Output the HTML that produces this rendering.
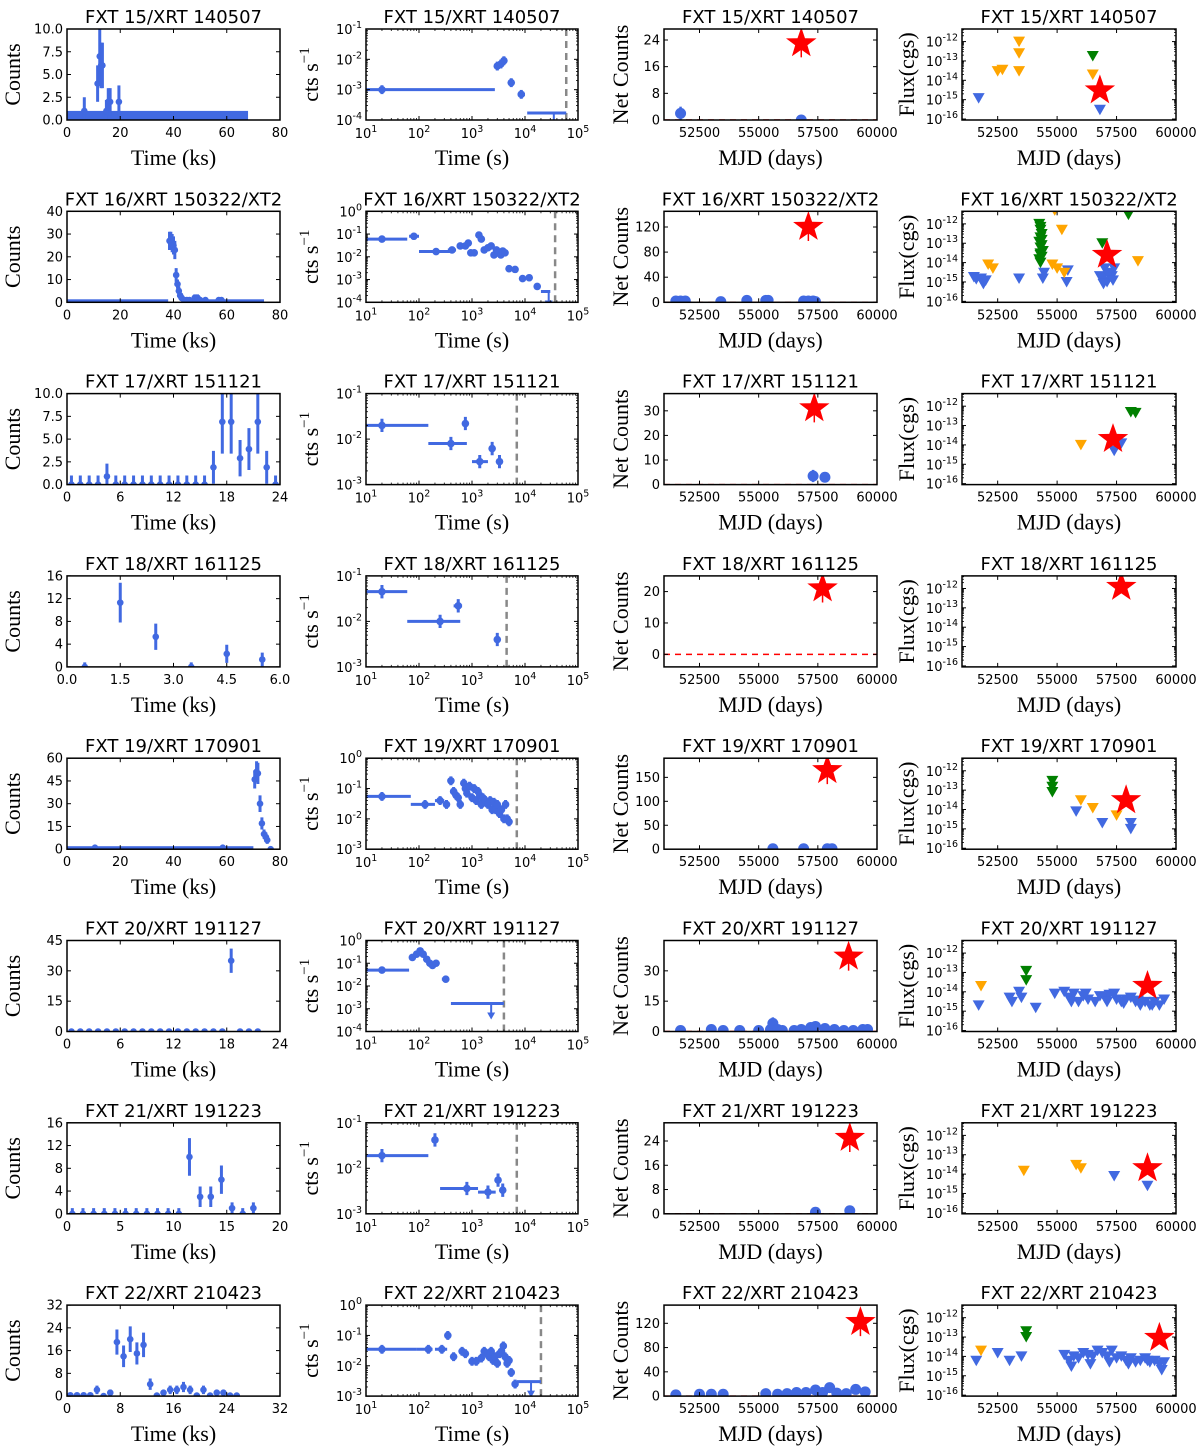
<!DOCTYPE html>
<html><head><meta charset="utf-8"><title>FXT light curves</title>
<style>
html,body{margin:0;padding:0;background:#fff;}
svg{display:block;}
.ttl{font-family:"DejaVu Sans","Liberation Sans",sans-serif;font-size:18px;fill:#000;}
.tk{font-family:"DejaVu Sans","Liberation Sans",sans-serif;font-size:13px;fill:#000;}
.lab{font-family:"Liberation Serif","DejaVu Serif",serif;font-size:22px;fill:#000;}
</style></head>
<body>
<svg id="fig" width="1200" height="1455" viewBox="0 0 1200 1455" xmlns="http://www.w3.org/2000/svg"></svg>
<script>
// ---------- panel titles ----------
const titles = ["FXT 15/XRT 140507","FXT 16/XRT 150322/XT2","FXT 17/XRT 151121","FXT 18/XRT 161125","FXT 19/XRT 170901","FXT 20/XRT 191127","FXT 21/XRT 191223","FXT 22/XRT 210423"];

// ---------- column 1: counts vs time (ks) ----------
const c1Xmax = [80,80,24,6,80,24,20,32];
const c1Ymax = [10,40,10,16,60,45,16,32];
const c1Xticks = [[0,20,40,60,80],[0,20,40,60,80],[0,6,12,18,24],[0,1.5,3,4.5,6],[0,20,40,60,80],[0,6,12,18,24],[0,5,10,15,20],[0,8,16,24,32]];
const c1Xlabels = [["0","20","40","60","80"],["0","20","40","60","80"],["0","6","12","18","24"],["0.0","1.5","3.0","4.5","6.0"],["0","20","40","60","80"],["0","6","12","18","24"],["0","5","10","15","20"],["0","8","16","24","32"]];
const c1Yticks = [[0,2.5,5,7.5,10],[0,10,20,30,40],[0,2.5,5,7.5,10],[0,4,8,12,16],[0,15,30,45,60],[0,15,30,45],[0,4,8,12,16],[0,8,16,24,32]];
const c1Ylabels = [["0.0","2.5","5.0","7.5","10.0"],["0","10","20","30","40"],["0.0","2.5","5.0","7.5","10.0"],["0","4","8","12","16"],["0","15","30","45","60"],["0","15","30","45"],["0","4","8","12","16"],["0","8","16","24","32"]];
// bands of zero-count bins: [start, end, upper error]
const c1Bands = [[[0,68,1]],[[0,38,0.8],[44,74,0.8]],[],[],[[0,70,1]],[],[],[]];
const c1T = [
 [6.5,11.5,12.3,12.8,13.3,14.8,15.5,16.2,19.5],
 [38.5,39,39.5,40,40.5,41,41.5,42,42.5,43,44,45,46,48,49,50,52,57,58],
 [0.5,1.5,2.5,3.5,4.5,5.5,6.5,7.5,8.5,9.5,10.5,11.5,12.5,13.5,14.5,15.5,16.5,17.5,18.5,19.5,20.5,21.5,22.5,23.5],
 [0.5,1.5,2.5,3.5,4.5,5.5],
 [10.5,58.5,70.5,71.2,71.7,72.5,73.2,74,74.7,75.2,76.5],
 [0.5,1.5,2.5,3.5,4.5,5.5,6.5,7.5,8.5,9.5,10.5,11.5,12.5,13.5,14.5,15.5,16.5,17.5,18.5,19.5,20.5,21.5],
 [0.5,1.5,2.5,3.5,4.5,5.5,6.5,7.5,8.5,9.5,10.5,11.5,12.5,13.5,14.5,15.5,16.5,17.5],
 [0.5,1.5,2.5,3.5,4.5,5.5,6.5,7.5,8.5,9.5,10.5,11.5,12.5,13.5,14.5,15.5,16.5,17.5,18.5,19.5,20.5,21.5,22.5,23.5,24.5,25.5]
];
const c1C = [
 [1,4,7,6,6,1,2,2,2],
 [27,27,26,25,23,12,8,5,3,2,1,1,1,2,2,1,1,1,1],
 [0,0,0,0,0.9,0,0,0,0,0,0,0,0,0,0,0,1.9,6.9,6.9,2.9,3.9,6.9,1.9,0],
 [0,11.3,5.3,0,2.3,1.3],
 [1,1,46,51,50,30,17,10,8,6,0],
 [0,0,0,0,0,0,0,0,0,0,0,0,0,0,0,0,0,0,35,0,0,0],
 [0,0,0,0,0,0,0,0,0,0,0,10,3,3,6,1,0,1],
 [0.3,0.3,0.3,0.3,2.2,0,1.2,19,14,20,15,18,4.2,0.2,1.2,2.2,2.2,3.2,2.2,0.2,2.2,0.2,1.2,1.2,0.2,0.2]
];
const c1E = [
 [1.5,2,3,2.5,2.5,1.2,1.5,1.5,1.8],
 [4,4,4,4,4,3,2,2,1.5,1.5,1,1,1,1.5,1.5,1,1,1,1],
 [1,1,1,1,1.4,1,1,1,1,1,1,1,1,1,1,1,1.8,3.5,3.5,2,2.3,3.5,1.8,1],
 [0.8,3.5,2.3,0.8,1.6,1.2],
 [1,1,6,7,7,5.5,4,3,3,2.5,1],
 [1,1,1,1,1,1,1,1,1,1,1,1,1,1,1,1,1,1,6,1,1,1],
 [1,1,1,1,1,1,1,1,1,1,1,3.3,1.8,1.8,2.5,1,1,1],
 [0.7,0.7,0.7,0.7,1.5,0.5,1.1,4.4,3.8,4.5,3.9,4.3,2,0.5,1,1.5,1.5,1.8,1.5,0.5,1.5,0.5,1,1,0.5,0.5]
];

// ---------- column 2: count rate vs time (log-log) ----------
const c2Ymin = [-4,-4,-3,-3,-3,-4,-3,-3];
const c2Ymax = [-1,0,-1,-1,0,0,-1,0];
const c2Dash = [60000,37000,7000,4500,7000,4000,7000,20000];
const c2T = [
 [20,3000,3500,4000,5500,8500],
 [20,80,210,420,600,750,850,950,1100,1350,1500,1700,2000,2300,2600,2900,3200,3500,3800,4200,5000,6500,9000,12000,17000],
 [20,400,750,1400,2400,3300],
 [20,250,550,3000],
 [20,130,250,330,400,450,500,550,600,700,750,800,900,1000,1100,1200,1300,1400,1500,1600,1800,2000,2200,2400,2600,2800,3000,3300,3600,4000,4300,4600,5000],
 [20,75,90,105,120,140,160,180,210,320],
 [20,200,800,2000,3100,3800],
 [20,150,270,350,450,650,750,1000,1200,1500,1700,1900,2100,2300,2500,2700,3000,3300,3600,3900,4200,4600,5000,5500,6500]
];
const c2Xlo = [
 [10,2700,3300,3800,4800,7500],
 [10,65,100,350,520,700,800,900,1000,1250,1400,1600,1850,2150,2450,2750,3050,3350,3650,3950,4500,5600,8000,10500,15000],
 [10,150,700,1000,2200,3000],
 [10,60,450,2600],
 [10,70,200,300,380,430,480,530,570,660,720,770,860,950,1050,1150,1250,1350,1450,1550,1700,1900,2100,2300,2500,2700,2900,3150,3450,3800,4150,4450,4800],
 [10,70,85,95,115,130,150,170,190,270],
 [10,180,250,1300,2900,3500],
 [10,90,200,330,400,600,700,900,1100,1400,1600,1800,2000,2200,2400,2600,2850,3150,3450,3750,4050,4400,4800,5200,6000]
];
const c2Xhi = [
 [2700,3300,3800,4300,6300,10000],
 [60,100,400,500,700,850,950,1000,1200,1450,1600,1800,2150,2450,2750,3050,3350,3650,3950,4500,5600,7500,10000,13500,19000],
 [150,800,800,2000,2700,3600],
 [60,600,650,3400],
 [70,200,300,380,420,470,520,570,630,740,780,830,940,1050,1150,1250,1350,1450,1550,1650,1900,2100,2300,2500,2700,2900,3150,3450,3750,4150,4450,4750,5200],
 [65,85,95,115,130,150,170,190,230,370],
 [150,220,1300,2800,3300,4100],
 [90,180,340,370,500,700,800,1100,1300,1600,1800,2000,2200,2400,2600,2800,3150,3450,3750,4050,4400,4800,5200,5800,7000]
];
const c2R = [
 [1e-3,6e-3,7e-3,9e-3,1.7e-3,7e-4],
 [0.06,0.08,0.017,0.02,0.03,0.03,0.04,0.015,0.015,0.09,0.06,0.02,0.025,0.03,0.012,0.02,0.015,0.012,0.018,0.015,3e-3,2.8e-3,1.1e-3,1.2e-3,5e-4],
 [0.02,0.008,0.022,3.2e-3,6.2e-3,3.2e-3],
 [0.045,0.01,0.022,4e-3],
 [0.055,0.03,0.04,0.03,0.18,0.08,0.06,0.05,0.03,0.15,0.1,0.07,0.12,0.05,0.1,0.04,0.08,0.06,0.03,0.05,0.04,0.03,0.04,0.02,0.035,0.02,0.03,0.015,0.02,0.01,0.03,0.01,0.008],
 [0.05,0.18,0.25,0.35,0.25,0.15,0.1,0.08,0.1,0.02],
 [0.019,0.042,3.6e-3,3e-3,5.5e-3,3.3e-3],
 [0.035,0.035,0.035,0.1,0.02,0.03,0.025,0.014,0.014,0.018,0.03,0.025,0.02,0.03,0.015,0.02,0.012,0.025,0.03,0.045,0.02,0.012,0.015,0.006,2.5e-3]
];
const c2F = [1.4,1.4,1.4,1.4,1.4,1.35,1.4,1.4];
// upper limits: [start, end, rate, arrow position]
const c2UL = [[11000,60000,1.7e-4,35000],[20000,30000,3e-4,28000],null,null,null,[400,4000,1.7e-3,2300],null,[7000,20000,3e-3,13000]];

// ---------- column 3: net counts vs MJD ----------
const c3Ymin = [0,0,0,-4,0,0,0,0];
const c3Ymax = [27.3,145,37,25,190,45,30,150];
const c3Yticks = [[0,8,16,24],[0,40,80,120],[0,10,20,30],[0,10,20],[0,50,100,150],[0,15,30],[0,8,16,24],[0,40,80,120]];
const c3Mjd = [
 [51700,56800],
 [51500,51700,51900,53400,54500,55300,55400,56900,57100,57300,57400],
 [57300,57800],
 [],
 [55600,56900,57900,58100],
 [51700,53000,53500,54200,55000,55500,55600,55800,56000,56500,56800,57200,57400,57800,58200,58600,59000,59400,59600],
 [57400,58850],
 [51500,52500,53000,53500,55300,55800,56200,56600,57000,57400,57700,58000,58300,58700,59100,59500]
];
const c3Net = [
 [2,0],
 [2,2,2,1,3,3,3,2,2,2,1],
 [3.5,3],
 [],
 [1,1,1,1],
 [0.5,1,0.5,0.5,0.5,1,4,1,0.5,0.5,1,2,2.5,1.5,1,0.5,0.5,1,1],
 [0.5,1],
 [2,3,3,3,4,3,4,6,6,10,6,14,5,4,11,7]
];
const c3Err = [
 [2,1.5],[2,2,2,1.5,2,2,2,2,2,2,1.5],[2.5,1.5],[],[1,1,1,1],
 [0.8,1,0.8,0.8,0.8,1,3,1,0.8,0.8,1,1.5,1.5,1.2,1,0.8,0.8,1,1],
 [1,1.5],[2,3,3,3,3,3,3,3,3,4,3,4,3,3,4,3]
];
const c3StarMjd = [56800,57100,57350,57700,57900,58800,58850,59300];
const c3StarNet = [23,120,31,21,165,37,25,122];

// ---------- column 4: flux upper limits vs MJD ----------
const c4BlueMjd = [
 [51700,56800],
 [51500,51600,51800,51900,52000,53400,54400,54450,55400,55450,56800,56900,57000,57100,57200,57300,57400,56950,57150,57350],
 [57400,57700],
 [],
 [55800,56900,58100,58100],
 [51700,53000,53100,53400,53500,54100,54900,55300,55500,55700,55900,56100,56300,56600,56800,57000,57200,57400,57500,57700,57900,58100,58300,58500,58700,58900,59100,59300,59500,55600,56200,57100,57800,58400,59000],
 [57400,58800],
 [51600,52500,53000,53500,55300,55500,55700,55900,56100,56300,56500,56700,56900,57100,57300,57500,57700,57900,58100,58300,58500,58700,58900,59100,59300,59500,55600,56400,57200,58000,58800,59400]
];
const c4BlueFlux = [
 [1.2e-15,3e-16],
 [1.8e-15,1.4e-15,1.5e-15,8e-16,1.2e-15,1.5e-15,1.5e-15,3e-15,1e-15,4e-15,2e-15,1.5e-15,5e-15,1e-15,3e-15,2e-15,5e-15,8e-16,2.5e-15,1.2e-15],
 [5e-15,1.2e-14],
 [],
 [8e-15,2e-15,2e-15,1e-15],
 [2e-15,5e-15,3e-15,1e-14,5e-15,1.5e-15,8e-15,1e-14,5e-15,8e-15,3e-15,6e-15,4e-15,3e-15,6e-15,5e-15,7e-15,8e-15,4e-15,3e-15,4e-15,5e-15,3e-15,2e-15,3e-15,2e-15,3e-15,2e-15,4e-15,3e-15,8e-15,3e-15,2.5e-15,3.5e-15,2e-15],
 [8e-15,2.5e-15],
 [6e-15,1.5e-14,6e-15,1e-14,1.2e-14,6e-15,1e-14,8e-15,1.5e-14,1.2e-14,1e-14,2e-14,1.5e-14,1e-14,2e-14,8e-15,1e-14,6e-15,8e-15,5e-15,6e-15,8e-15,5e-15,6e-15,4e-15,5e-15,3e-15,4e-15,5e-15,4e-15,6e-15,2e-15]
];
const c4OrangeMjd = [
 [52500,52700,53400,53400,53400,56500],
 [52100,52300,54900,55200,54800,55000,55300,58400],
 [56000],[],
 [56000,56500,57500],
 [51800],
 [53600,55800,56000],
 [51800]
];
const c4OrangeFlux = [
 [3e-14,3.5e-14,1e-12,2.5e-13,3e-14,2e-14],
 [8e-15,5e-15,5e-12,5e-13,8e-15,5e-15,3e-15,1.2e-14],
 [1e-14],[],
 [3e-14,1.2e-14,5e-15],
 [2e-14],
 [1.5e-14,3e-14,2e-14],
 [2e-14]
];
const c4GreenMjd = [
 [56500],
 [54250,54300,54350,54300,54250,54350,54300,54400,54300,54350,54250,54300,54300,54350,54300,56900,58000],
 [58100,58300],[],
 [54800,54800,54800],
 [53700,53700],[],
 [53700,53700]
];
const c4GreenFlux = [
 [1.8e-13],
 [1e-12,5e-13,3e-13,2e-13,1.2e-13,8e-14,6e-14,4e-14,3e-14,2e-14,1.5e-14,1e-14,7e-13,1.5e-13,2.5e-14,1e-13,3e-12],
 [5e-13,4.5e-13],[],
 [3e-13,1.5e-13,8e-14],
 [1.2e-13,4e-14],[],
 [2e-13,1e-13]
];
const c4StarMjd = [56800,57100,57350,57700,57900,58800,58800,59300];
const c4StarFlux = [3e-15,2.5e-14,2e-14,1.2e-12,3e-14,2e-14,2e-14,9e-14];
const mjdTicks = [52500,55000,57500,60000];

// ---------- drawing ----------
const NS='http://www.w3.org/2000/svg';
const svg=document.getElementById('fig');
const BLUE='#4169e1', ORANGE='#ffa500', GREEN='#008000', RED='#ff0000';
function mk(tag,attrs,parent){const e=document.createElementNS(NS,tag);for(const k in attrs)e.setAttribute(k,attrs[k]);(parent||svg).appendChild(e);return e;}
const COLS=[[67,280],[366,578],[664,877],[962,1176]];
const PITCH=182.3;
function lin(a,b,p,q){return v=>p+(v-a)/(b-a)*(q-p);}
function lg(a,b,p,q){return v=>p+(Math.log10(v)-a)/(b-a)*(q-p);}

function line(g,x1,y1,x2,y2,st,w,dash){const l=mk('line',{x1:x1,y1:y1,x2:x2,y2:y2,stroke:st,'stroke-width':w},g);if(dash)l.setAttribute('stroke-dasharray',dash);return l;}
function tickText(g,x,y,txt,anchor,sup){
  const t=mk('text',{x:x,y:y,'text-anchor':anchor,class:'tk'},g);
  t.textContent=txt;
  if(sup){const s=mk('tspan',{dy:-6,'font-size':'9.5px'},t);s.textContent=sup;}
  return t;
}
function frameAxes(g,c,top,bot,title,xl,yl,ylx){
  const [x0,x1]=COLS[c];
  const ttl=mk('text',{x:(x0+x1)/2,y:top-6,'text-anchor':'middle',class:'ttl'},g);
  ttl.textContent=title;
  
  
  const xa=mk('text',{x:(x0+x1)/2,y:bot+45,'text-anchor':'middle',class:'lab'},g);
  xa.textContent=xl;
  
  
  const ya=mk('text',{x:0,y:0,'text-anchor':'middle',class:'lab',transform:`translate(${ylx},${(top+bot)/2}) rotate(-90)`},g);
  ya.textContent=yl;
  
  
}
function box(g,c,top,bot){
  const [x0,x1]=COLS[c];
  const r=mk('rect',{x:x0,y:top,width:x1-x0,height:bot-top,fill:'none',stroke:'#000','stroke-width':1.5},g);
  
  
}
function xTicksLin(g,c,top,bot,vals,labels,sx){
  vals.forEach((v,i)=>{const x=sx(v);line(g,x,bot,x,bot-4,'#000',1);line(g,x,top,x,top+4,'#000',1);
    const t=tickText(g,x,bot+17,labels[i],'middle');
    
    });
}
function yTicksLin(g,c,vals,labels,sy){
  const [x0,x1]=COLS[c];
  vals.forEach((v,i)=>{const y=sy(v);line(g,x0,y,x0+4,y,'#000',1);line(g,x1,y,x1-4,y,'#000',1);
    const t=tickText(g,x0-4,y+4.5,labels[i],'end');
    
    });
}
function logTicksY(g,c,a,b,sy,labelFrom,labelTo){
  const [x0,x1]=COLS[c];
  for(let d=Math.floor(a);d<=Math.ceil(b);d++){
    const y=sy(Math.pow(10,d));
    if(d>=a&&d<=b){line(g,x0,y,x0+4,y,'#000',1);line(g,x1,y,x1-4,y,'#000',1);
      if(d>=labelFrom&&d<=labelTo){const t=tickText(g,x0-4,y+5,'10','end',String(d));
        
        }}
    for(let k=2;k<10;k++){const v=Math.log10(k)+d;if(v>a&&v<b){const yy=sy(Math.pow(10,v));line(g,x0,yy,x0+2,yy,'#000',0.8);line(g,x1,yy,x1-2,yy,'#000',0.8);}}
  }
}
function starPts(cx,cy,R){let p=[];for(let i=0;i<10;i++){const r=i%2?R*0.4:R;const a=-Math.PI/2+i*Math.PI/5;p.push((cx+r*Math.cos(a)).toFixed(1)+','+(cy+r*Math.sin(a)).toFixed(1));}return p.join(' ');}
function tri(g,x,y,col){
  const t=mk('polygon',{points:`${x-6},${y-5} ${x+6},${y-5} ${x},${y+5.5}`,fill:col},g);
  
  
}

for(let r=0;r<8;r++){
  const off=r*PITCH, top=29+off, bot=120+off;
  // ---- col 1 ----
  {
    const c=0,g=mk('g',{});
    
    
    const sx=lin(0,c1Xmax[r],COLS[c][0],COLS[c][1]), sy=lin(0,c1Ymax[r],bot,top);
    const clip=mk('clipPath',{id:'cl1_'+r},g);mk('rect',{x:COLS[c][0],y:top,width:COLS[c][1]-COLS[c][0],height:bot-top},clip);
    const dg=mk('g',{'clip-path':`url(#cl1_${r})`},g);
    c1Bands[r].forEach(b=>{const y2=sy(b[2]);const rc=mk('rect',{x:sx(b[0]),y:Math.min(y2,bot-3),width:sx(b[1])-sx(b[0]),height:Math.max(bot-y2,3),fill:BLUE},dg);
      
      });
    c1T[r].forEach((t,i)=>{const x=sx(t),v=c1C[r][i],e=c1E[r][i];
      line(dg,x,sy(Math.max(0,v-e)),x,sy(v+e),BLUE,3);
      const d=mk('circle',{cx:x,cy:sy(v),r:3.3,fill:BLUE},dg);
      
      });
    box(g,c,top,bot);
    xTicksLin(g,c,top,bot,c1Xticks[r],c1Xlabels[r],sx);
    yTicksLin(g,c,c1Yticks[r],c1Ylabels[r],sy);
    frameAxes(g,c,top,bot,titles[r],'Time (ks)','Counts',20);
  }
  // ---- col 2 ----
  {
    const c=1,g=mk('g',{});
    
    
    const sx=lg(1,5,COLS[c][0],COLS[c][1]), sy=lg(c2Ymin[r],c2Ymax[r],bot,top);
    const clip=mk('clipPath',{id:'cl2_'+r},g);mk('rect',{x:COLS[c][0],y:top,width:COLS[c][1]-COLS[c][0],height:bot-top},clip);
    const dg=mk('g',{'clip-path':`url(#cl2_${r})`},g);
    const dl=line(dg,sx(c2Dash[r]),top,sx(c2Dash[r]),bot,'#888',2.5,'7,5');
    
    
    const f=c2F[r];
    c2T[r].forEach((t,i)=>{const y=sy(c2R[r][i]),x=sx(t);
      line(dg,sx(c2Xlo[r][i]),y,sx(c2Xhi[r][i]),y,BLUE,3);
      line(dg,x,sy(c2R[r][i]/f),x,sy(c2R[r][i]*f),BLUE,3);
      const d=mk('circle',{cx:x,cy:y,r:3.8,fill:BLUE},dg);
      
      });
    const ul=c2UL[r];
    if(ul){const y=sy(ul[2]),xa=sx(ul[3]);
      line(dg,sx(ul[0]),y,sx(ul[1]),y,BLUE,3);
      line(dg,xa,y,xa,y+12,BLUE,2);
      const a=mk('polygon',{points:`${xa-4},${y+9} ${xa+4},${y+9} ${xa},${y+16}`,fill:BLUE},dg);
      
      }
    box(g,c,top,bot);
    for(let d=1;d<=5;d++){const x=sx(Math.pow(10,d));line(g,x,bot,x,bot-4,'#000',1);line(g,x,top,x,top+4,'#000',1);
      const t=tickText(g,x,bot+18,'10','middle',String(d));
      
      
      if(d<5)for(let k=2;k<10;k++){const xx=sx(k*Math.pow(10,d));line(g,xx,bot,xx,bot-2,'#000',0.8);line(g,xx,top,xx,top+2,'#000',0.8);}}
    logTicksY(g,c,c2Ymin[r],c2Ymax[r],sy,-10,10);
    frameAxes(g,c,top,bot,titles[r],'Time (s)','',316);
    const ya=mk('text',{x:0,y:0,'text-anchor':'middle',class:'lab',transform:`translate(318,${(top+bot)/2}) rotate(-90)`},g);
    ya.textContent='cts s';
    
    
    const sp=mk('tspan',{dy:-9,'font-size':'15px'},ya);sp.textContent='\u22121';
  }
  // ---- col 3 ----
  {
    const c=2,g=mk('g',{});
    
    
    const sx=lin(51000,60000,COLS[c][0],COLS[c][1]), sy=lin(c3Ymin[r],c3Ymax[r],bot,top);
    const clip=mk('clipPath',{id:'cl3_'+r},g);mk('rect',{x:COLS[c][0],y:top,width:COLS[c][1]-COLS[c][0],height:bot-top},clip);
    const dg=mk('g',{'clip-path':`url(#cl3_${r})`},g);
    const zl=line(dg,COLS[c][0],sy(0),COLS[c][1],sy(0),RED,1.5,'6,5');
    
    
    c3Mjd[r].forEach((m,i)=>{const x=sx(m),v=c3Net[r][i],e=c3Err[r][i];
      line(dg,x,sy(Math.max(0,v-e)),x,sy(v+e),BLUE,2.5);
      const d=mk('circle',{cx:x,cy:sy(v),r:5.5,fill:BLUE},dg);
      
      });
    const sxs=sx(c3StarMjd[r]),sys=sy(c3StarNet[r]);
    line(dg,sxs,sys-8,sxs,sys+14,RED,1.5);
    const st=mk('polygon',{points:starPts(sxs,sys,16),fill:RED},dg);
    
    
    box(g,c,top,bot);
    xTicksLin(g,c,top,bot,mjdTicks,mjdTicks.map(String),sx);
    yTicksLin(g,c,c3Yticks[r],c3Yticks[r].map(String),sy);
    frameAxes(g,c,top,bot,titles[r],'MJD (days)','Net Counts',628);
  }
  // ---- col 4 ----
  {
    const c=3,g=mk('g',{});
    
    
    const sx=lin(51000,60000,COLS[c][0],COLS[c][1]), sy=lg(-16.05,-11.35,bot,top);
    const clip=mk('clipPath',{id:'cl4_'+r},g);mk('rect',{x:COLS[c][0],y:top,width:COLS[c][1]-COLS[c][0],height:bot-top},clip);
    const dg=mk('g',{'clip-path':`url(#cl4_${r})`},g);
    c4BlueMjd[r].forEach((m,i)=>tri(dg,sx(m),sy(c4BlueFlux[r][i]),BLUE));
    c4OrangeMjd[r].forEach((m,i)=>tri(dg,sx(m),sy(c4OrangeFlux[r][i]),ORANGE));
    c4GreenMjd[r].forEach((m,i)=>tri(dg,sx(m),sy(c4GreenFlux[r][i]),GREEN));
    const st=mk('polygon',{points:starPts(sx(c4StarMjd[r]),sy(c4StarFlux[r]),16),fill:RED},dg);
    
    
    box(g,c,top,bot);
    xTicksLin(g,c,top,bot,mjdTicks,mjdTicks.map(String),sx);
    logTicksY(g,c,-16.05,-11.35,sy,-16,-12);
    frameAxes(g,c,top,bot,titles[r],'MJD (days)','Flux(cgs)',914);
  }
}
</script>
</body></html>
